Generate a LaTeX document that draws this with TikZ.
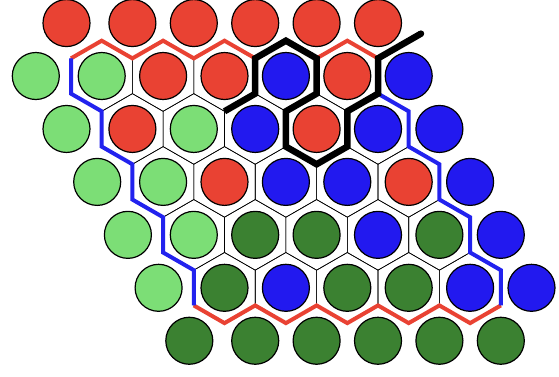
\documentclass[tikz,border=0pt]{standalone}
\usetikzlibrary{calc}
\definecolor{stonered}{HTML}{E94233}
\definecolor{stoneblue}{HTML}{2219EF}
\definecolor{stonelight}{HTML}{7CDE76}
\definecolor{stonedark}{HTML}{3B8131}
\definecolor{edgered}{HTML}{E94233}
\definecolor{edgeblue}{HTML}{2222EE}

\begin{document}
\begin{tikzpicture}[
  stone/.style={
    circle, draw=black, line width=1.2pt,
    minimum size=47pt, inner sep=0pt
  },
  cellline/.style={draw=black, line width=0.6pt},
  redline/.style={edgered, line width=4pt},
  blueline/.style={edgeblue, line width=4pt},
  winpath/.style={black, line width=6.5pt},
]
  \useasboundingbox (0,0) rectangle (559pt,-376pt);
  \begin{scope}[shift={(101.7pt,-76pt)}, x={(61.4pt,0pt)}, y={(30.7pt,-52.95pt)}]

  % Board cells
  \foreach \i in {0,...,4}
    \foreach \j in {0,...,4}
      \draw[cellline] (\i,\j) ++(1/3,-2/3) -- ++(1/3,1/3) -- ++(-1/3,2/3)
        -- ++(-2/3,1/3) -- ++(-1/3,-1/3) -- ++(1/3,-2/3) -- cycle;

  % Board edges
  \draw[redline] (-1/3,-1/3) \foreach \i in {0,...,4} { -- (\i+1/3,-2/3) -- (\i+2/3,-1/3) };
  \draw[redline] (-2/3,13/3) \foreach \i in {0,...,4} { -- (\i-1/3,14/3) -- (\i+1/3,13/3) };
  \draw[blueline] (-1/3,-1/3) -- (-2/3,1/3)
    \foreach \j in {1,...,4} { -- (-1/3,\j-1/3) -- (-2/3,\j+1/3) };
  \draw[blueline] (14/3,-1/3) -- (13/3,1/3)
    \foreach \j in {1,...,4} { -- (14/3,\j-1/3) -- (13/3,\j+1/3) };

  % Winning chain
  \draw[winpath] (5/3,2/3) -- (7/3,1/3) -- (8/3,-1/3) -- (10/3,-2/3) -- (11/3,-1/3)
    -- (10/3,1/3) -- (8/3,2/3) -- (7/3,4/3) -- (8/3,5/3) -- (10/3,4/3)
    -- (11/3,2/3) -- (13/3,1/3) -- (14/3,-1/3) -- (5.6,-0.8);
  \fill[black] (5.6,-0.8) circle (3.25pt);

  % Stones on the board
  \foreach \row [count=\j from 0] in {
      {stonelight,stonered,stonered,stoneblue,stonered},
      {stonered,stonelight,stoneblue,stonered,stoneblue},
      {stonelight,stonered,stoneblue,stoneblue,stonered},
      {stonelight,stonedark,stonedark,stoneblue,stonedark},
      {stonedark,stoneblue,stonedark,stonedark,stoneblue}}
    \foreach \c [count=\i from 0] in \row
      \node[stone, fill=\c] (s-\i-\j) at (\i,\j) {};

  % Top edge
  \node[stone, fill=stonered, xshift=-4.5pt] (top-corner) at (0,-1) {};
  \foreach \i in {1,...,5}
    \node[stone, fill=stonered] (top-\i) at (\i,-1) {};

  % Left and right edges
  \foreach \j in {0,...,4} {
    \node[stone, fill=stonelight, xshift=-4.5pt] (left-\j) at (-1,\j) {};
    \node[stone, fill=stoneblue] (right-\j) at (5,\j) {};
  }

  % Bottom edge
  \node[stone, fill=stonedark, xshift=-4.5pt] (bot-corner) at (-1,5) {};
  \foreach \i in {0,...,4}
    \node[stone, fill=stonedark] (bot-\i) at (\i,5) {};
  \end{scope}
\end{tikzpicture}
\end{document}
